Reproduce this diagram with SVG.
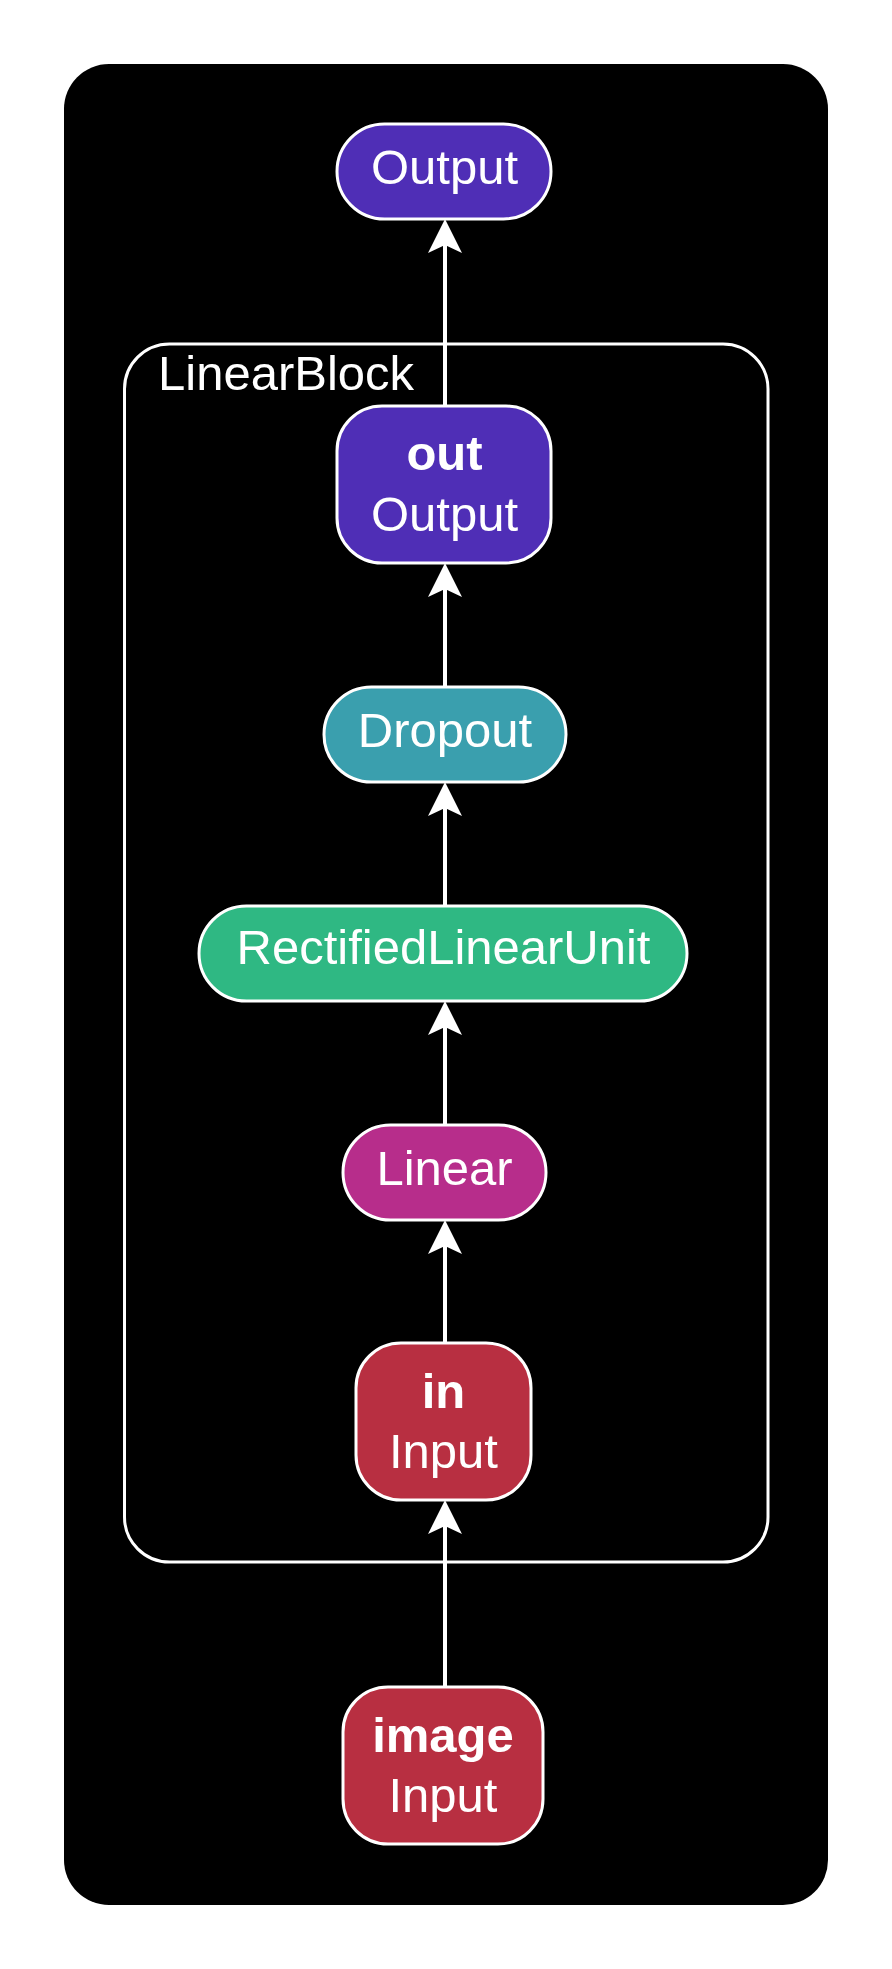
<svg xmlns="http://www.w3.org/2000/svg" width="892" height="1969" viewBox="0 0 892 1969">
<style>
.bg{fill:#000000}
.cluster{fill:none;stroke:#ffffff;stroke-width:3}
.node{stroke:#ffffff;stroke-width:3}
.t{font-family:"Liberation Sans",Arial,sans-serif;font-size:49px;fill:#ffffff;text-anchor:middle}
.b{font-weight:bold}
.lbl{font-family:"Liberation Sans",Arial,sans-serif;font-size:49px;fill:#ffffff}
.edge{stroke:#ffffff;stroke-width:4;fill:none}
.ah{fill:#ffffff;stroke:none}
.out{fill:#4F2EB6}
.drop{fill:#3A9FAE}
.relu{fill:#2FB883}
.lin{fill:#B72D8B}
.inp{fill:#B82F41}
</style>
<rect class="bg" x="64" y="64" width="764" height="1841" rx="45" ry="45"/>
<g id="cluster_LinearBlock">
<rect class="cluster" x="124.5" y="344" width="643.5" height="1218" rx="45" ry="45"/>
<text class="lbl" x="158" y="390">LinearBlock</text>
</g>
<g id="edges">
<line class="edge" x1="445" y1="1687" x2="445" y2="1526"/>
<polygon class="ah" points="445,1500 462,1534 445,1526 428,1534"/>
<line class="edge" x1="445" y1="1343" x2="445" y2="1246"/>
<polygon class="ah" points="445,1220 462,1254 445,1246 428,1254"/>
<line class="edge" x1="445" y1="1125" x2="445" y2="1027"/>
<polygon class="ah" points="445,1001 462,1035 445,1027 428,1035"/>
<line class="edge" x1="445" y1="906" x2="445" y2="808"/>
<polygon class="ah" points="445,782 462,816 445,808 428,816"/>
<line class="edge" x1="445" y1="687" x2="445" y2="589"/>
<polygon class="ah" points="445,563 462,597 445,589 428,597"/>
<line class="edge" x1="445" y1="406" x2="445" y2="245"/>
<polygon class="ah" points="445,219 462,253 445,245 428,253"/>
</g>
<g id="node_Output">
<rect class="node out" x="337" y="124" width="214" height="95" rx="47.5" ry="47.5"/>
<text class="t" x="444.5" y="183.5">Output</text>
</g>
<g id="node_out">
<rect class="node out" x="337" y="406" width="214" height="157" rx="45" ry="45"/>
<text class="t b" x="444.5" y="470">out</text>
<text class="t" x="444.5" y="531">Output</text>
</g>
<g id="node_Dropout">
<rect class="node drop" x="324" y="687" width="242" height="95" rx="47.5" ry="47.5"/>
<text class="t" x="445" y="746.5">Dropout</text>
</g>
<g id="node_RectifiedLinearUnit">
<rect class="node relu" x="199" y="906" width="488" height="95" rx="47.5" ry="47.5"/>
<text class="t" x="443.5" y="964">RectifiedLinearUnit</text>
</g>
<g id="node_Linear">
<rect class="node lin" x="343" y="1125" width="203" height="95" rx="47.5" ry="47.5"/>
<text class="t" x="444.5" y="1184.5">Linear</text>
</g>
<g id="node_in">
<rect class="node inp" x="356" y="1343" width="175" height="157" rx="45" ry="45"/>
<text class="t b" x="443.5" y="1408">in</text>
<text class="t" x="443.5" y="1468">Input</text>
</g>
<g id="node_image">
<rect class="node inp" x="343" y="1687" width="200" height="157" rx="45" ry="45"/>
<text class="t b" x="443" y="1752">image</text>
<text class="t" x="443" y="1812">Input</text>
</g>
</svg>
